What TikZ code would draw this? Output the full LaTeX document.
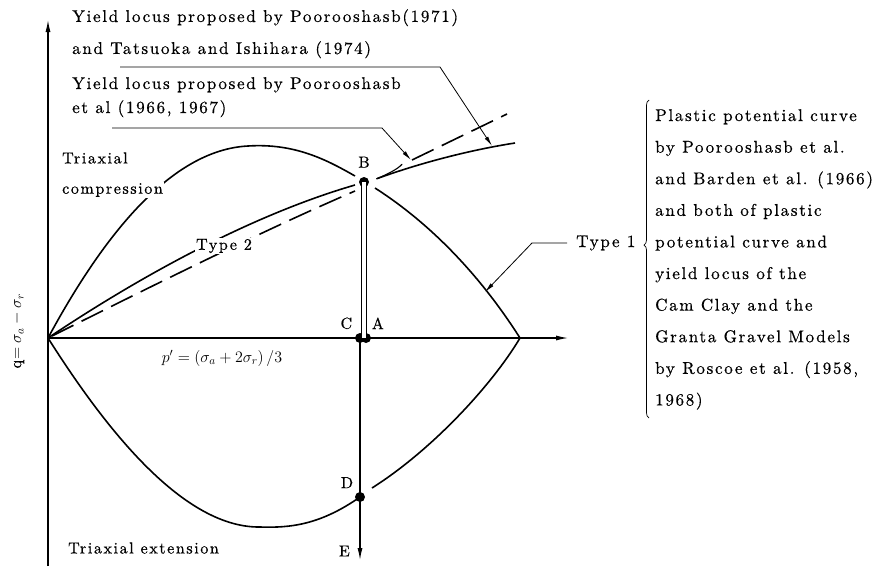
\RequirePackage{fix-cm}
\documentclass[tikz,border=0pt]{standalone}
\usepackage{amsmath}
\usepackage{fontspec}
\setmainfont{lmroman10-regular.otf}
\newfontfamily\spacedfont{lmroman10-regular.otf}[LetterSpace=10, FakeBold=0.6]
\usepackage{tikz}
\usetikzlibrary{arrows.meta,positioning,decorations.pathreplacing,calc}

\begin{document}
\begin{tikzpicture}[
    x=1pt, y=-1pt,
    txt/.style={font=\spacedfont\fontsize{16}{31.6}\selectfont, inner sep=0pt},
    dot/.style={circle, fill=black, inner sep=0pt, minimum size=10pt},
    axis/.style={line width=1.1pt, -{Latex[length=12pt,width=5pt]}},
    curve/.style={line width=1.6pt, line join=round},
    dashline/.style={line width=1.6pt, dash pattern=on 24pt off 9pt},
    leader/.style={line width=0.8pt, -{Latex[length=10pt,width=4pt]}},
    twin/.style={double, double distance=3.5pt, line width=0.9pt}
]
\useasboundingbox (0,0) rectangle (873,566);

% Axes
\coordinate (O) at (48,338);
\coordinate (qtop) at (48,20);
\coordinate (qbot) at (48,566);
\coordinate (pend) at (568,338);
\draw[axis] (qbot) -- (qtop);
\draw[axis] (O) -- (pend);
\node[txt, rotate=90] (qlabel) at (18,331) {q$=\sigma_a-\sigma_r$};
\node[txt] (plabel) at (222,358) {$p'=(\sigma_a+2\sigma_r)\,/3$};

% Stress points
\node[dot] (B) at (364,182) {};
\node[dot] (C) at (360,338) {};
\node[dot] (A) at (366,338) {};
\node[dot] (D) at (360,497) {};
\coordinate (E) at (360,560);
\node[txt, above=9pt of B] {B};
\node[txt, above left=5pt and 4pt of C] {C};
\node[txt, above right=5pt and 2pt of A] {A};
\node[txt, above left=5pt and 3pt of D] {D};
\node[txt, left=10pt of E, yshift=9pt] {E};

% Stress paths
\draw[twin] (B.center) -- (B |- C);
\draw[axis] (C.center) -- (E);

% Yield locus / plastic potential (Type 1)
\draw[curve] (O) .. controls (102,238) and (170,150) .. (248,146)
    .. controls (295,143) and (327,160) .. (355,176);
\draw[curve] (375,188) .. controls (428,222) and (478,272) .. (520,338)
    .. controls (492,385) and (432,450) .. (372,488);
\draw[curve] (D.center) .. controls (320,525) and (290,528) .. (260,527)
    .. controls (180,528) and (100,420) .. (O);

% Type 2
\draw[curve] (O) .. controls (145,273) and (255,214) .. (355,185);
\draw[dashline] (52,336) .. controls (150,287) and (260,232) .. (355,191);
\node[txt, fill=white, inner sep=1pt] (type2) at (224,246) {Type 2};
\draw[dashline] (412,160) -- (507,114);
\draw[curve, -{To[harpoon, swap, length=30pt, width=11pt, line width=1.1pt]}]
    (515,143) .. controls (470,150) and (420,163) .. (376,179);

% Region labels
\node[txt, anchor=west] (tri) at (62,158) {Triaxial};
\node[txt, anchor=west, fill=white, inner sep=1pt] (comp) at (61,190) {compression};
\node[txt, anchor=west] (ext) at (68,548) {Triaxial extension};

% Yield locus references
\node[txt, anchor=north west, align=left, font=\spacedfont\fontsize{17}{32}\selectfont] (ref1) at (72,9)
    {Yield locus proposed by Poorooshasb(1971)\\and Tatsuoka and Ishihara (1974)};
\node[txt, anchor=north west, align=left, font=\spacedfont\fontsize{17}{24}\selectfont] (ref2) at (72,77)
    {Yield locus proposed by Poorooshasb\\et al (1966, 1967)};
\coordinate (la) at (120,67);
\coordinate (lb) at (440,67);
\coordinate (tipa) at (492,146);
\coordinate (lc) at (112,128);
\coordinate (ld) at (382,128);
\coordinate (tipb) at (411,160);
\draw[leader] (la) -- (lb) -- (tipa);
\draw[leader] (lc) -- (ld) -- (tipb);

% Type 1 and its sources
\node[txt, anchor=west, font=\spacedfont\fontsize{17}{31.6}\selectfont] (type1) at (576,243) {Type 1};
\coordinate (tipc) at (485,292);
\draw[leader] ($(type1.west)+(-9,0)$) -- ++(-35,0) -- (tipc);
\draw[line width=0.7pt, decorate, decoration={brace, amplitude=5pt, aspect=0.544}]
    (649,418) -- (649,100);
\node[txt, anchor=north west, align=left, font=\spacedfont\fontsize{17}{31.6}\selectfont] (srcs) at (655,109)
    {Plastic potential curve\\by Poorooshasb et al.\\and Barden et al. (1966)\\and both of plastic\\potential curve and\\yield locus of the\\Cam Clay and the\\Granta Gravel Models\\by Roscoe et al. (1958,\\1968)};

\end{tikzpicture}
\end{document}
